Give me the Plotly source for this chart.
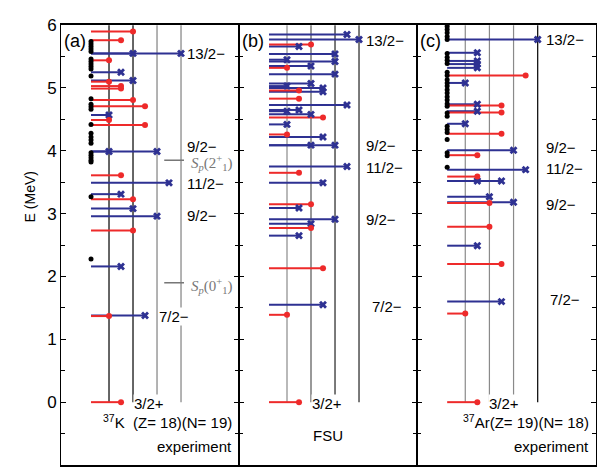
import plotly.graph_objects as go

RED = "#ee2a2a"
BLUE = "#2e3192"

# level energies (MeV) and line lengths, panel (a) 37K experiment
a_red_e = [5.90, 5.76, 5.44, 5.10, 5.03, 4.99, 4.81, 4.71, 4.49, 4.41, 3.61, 3.23, 2.73, 1.37, 0.0]
a_red_len = [3.5, 2.5, 1.5, 1.5, 2.5, 2.5, 3.5, 4.5, 1.5, 4.5, 2.5, 3.5, 3.5, 1.5, 2.5]
a_blue_e = [5.55, 5.55, 5.25, 5.12, 4.57, 3.99, 3.99, 3.49, 3.31, 3.08, 2.96, 2.16, 1.38]
a_blue_len = [7.5, 3.5, 2.5, 3.5, 1.5, 5.5, 1.5, 6.5, 2.5, 3.5, 5.5, 2.5, 4.5]
a_black_e = [5.74, 5.70, 5.66, 5.62, 5.58, 5.46, 5.42, 5.38, 5.34, 5.30, 5.19, 4.83,
             4.74, 4.70, 4.66, 4.42, 4.28, 4.22, 4.17, 4.12, 3.97, 3.93, 3.89, 3.85,
             3.82, 3.27, 2.28]

# panel (b) FSU
b_red_e = [5.69, 5.32, 4.96, 4.83, 4.53, 4.26, 3.65, 3.15, 2.77, 2.13, 1.39, 0.0]
b_red_len = [3.5, 1.5, 2.5, 2.5, 4.5, 1.5, 2.5, 3.5, 3.5, 4.5, 1.5, 2.5]
b_blue_e = [5.85, 5.77, 5.66, 5.54, 5.45, 5.42, 5.35, 5.22, 5.07, 5.03, 5.00, 4.94,
            4.73, 4.65, 4.63, 4.58, 4.42, 4.22, 4.09, 4.09, 3.75, 3.49, 3.09, 2.91,
            2.84, 2.65, 1.55]
b_blue_len = [6.5, 7.5, 2.5, 5.5, 1.5, 5.5, 3.5, 5.5, 3.5, 1.5, 4.5, 4.5,
              6.5, 2.5, 1.5, 3.5, 1.5, 4.5, 5.5, 3.5, 6.5, 4.5, 2.5, 5.5,
              3.5, 2.5, 4.5]

# panel (c) 37Ar experiment
c_red_e = [5.20, 4.72, 4.61, 4.27, 3.93, 3.59, 3.17, 2.79, 2.20, 1.41, 0.0]
c_red_len = [6.5, 4.5, 4.5, 4.5, 2.5, 2.5, 3.5, 3.5, 4.5, 1.5, 2.5]
c_blue_e = [5.77, 5.56, 5.43, 5.38, 5.32, 5.08, 4.74, 4.63, 4.43, 4.01, 3.70, 3.52,
            3.52, 3.27, 3.18, 2.49, 1.60]
c_blue_len = [7.5, 2.5, 2.5, 2.5, 2.5, 1.5, 2.5, 2.5, 1.5, 5.5, 6.5, 4.5,
              2.5, 3.5, 5.5, 2.5, 4.5]
c_black_e = [5.98, 5.93, 5.88, 5.82, 5.77, 5.55, 5.49, 5.44, 5.39, 5.25, 5.20, 5.13,
             5.08, 5.03, 4.97, 4.92, 4.86, 4.81, 4.75, 4.71, 4.60, 4.55, 4.39, 4.34,
             4.29, 4.18, 3.97, 3.92, 3.74]

ref_x = [1.5, 3.5, 5.5, 7.5]
ref_colors = {
    1: ["black", "black", "#808080", "#808080"],
    2: ["#8a8a8a", "#555555", "#222222", "#222222"],
    3: ["#8a8a8a", "#8a8a8a", "#8a8a8a", "black"],
}

# spin labels: (x, E, text) per panel
spin_labels = {
    1: [(7.9, 5.55, "13/2−"), (7.9, 4.07, "9/2−"), (7.9, 3.48, "11/2−"),
        (7.9, 2.97, "9/2−"), (5.6, 1.36, "7/2−"), (3.5, -0.02, "3/2+")],
    2: [(8.0, 5.76, "13/2−"), (8.0, 4.08, "9/2−"), (8.0, 3.73, "11/2−"),
        (8.0, 2.90, "9/2−"), (8.5, 1.53, "7/2−"), (3.5, -0.02, "3/2+")],
    3: [(8.1, 5.77, "13/2−"), (8.1, 4.05, "9/2−"), (8.1, 3.72, "11/2−"),
        (8.1, 3.14, "9/2−"), (8.4, 1.64, "7/2−"), (3.4, -0.02, "3/2+")],
}
sp_e = [3.85, 1.90]
sp_text = ["<i>S<sub>p</sub></i>(2<sup>+</sup><sub>1</sub>)",
           "<i>S<sub>p</sub></i>(0<sup>+</sup><sub>1</sub>)"]


def segments(energies, lengths):
    xs, ys = [], []
    for e, l in zip(energies, lengths):
        xs += [0, l, None]
        ys += [e, e, None]
    return xs, ys


fig = go.Figure()


def add_panel(n, red_e, red_len, blue_e, blue_len, black_e=None):
    xa = "x" if n == 1 else "x%d" % n
    ya = "y" if n == 1 else "y%d" % n
    for xv, col in zip(ref_x, ref_colors[n]):
        fig.add_trace(go.Scatter(x=[xv, xv], y=[0, 6], mode="lines",
                                 line=dict(color=col, width=1.2),
                                 xaxis=xa, yaxis=ya, showlegend=False))
    bx, by = segments(blue_e, blue_len)
    fig.add_trace(go.Scatter(x=bx, y=by, mode="lines", line=dict(color=BLUE, width=2),
                             xaxis=xa, yaxis=ya, showlegend=False))
    rx, ry = segments(red_e, red_len)
    fig.add_trace(go.Scatter(x=rx, y=ry, mode="lines", line=dict(color=RED, width=2),
                             xaxis=xa, yaxis=ya, showlegend=False))
    fig.add_trace(go.Scatter(x=blue_len, y=blue_e, mode="markers",
                             marker=dict(symbol="x", size=7, color=BLUE),
                             xaxis=xa, yaxis=ya, showlegend=False))
    fig.add_trace(go.Scatter(x=red_len, y=red_e, mode="markers",
                             marker=dict(symbol="circle", size=6, color=RED),
                             xaxis=xa, yaxis=ya, showlegend=False))
    if black_e:
        fig.add_trace(go.Scatter(x=[0] * len(black_e), y=black_e, mode="markers",
                                 marker=dict(symbol="circle", size=5, color="black"),
                                 xaxis=xa, yaxis=ya, showlegend=False))
    for xv, ev, txt in spin_labels[n]:
        fig.add_annotation(x=xv, y=ev, xref=xa, yref=ya, text=txt, showarrow=False,
                           xanchor="left", yanchor="middle", bgcolor="white",
                           borderpad=0, font=dict(size=15, color="black"))


add_panel(1, a_red_e, a_red_len, a_blue_e, a_blue_len, a_black_e)
add_panel(2, b_red_e, b_red_len, b_blue_e, b_blue_len)
add_panel(3, c_red_e, c_red_len, c_blue_e, c_blue_len, c_black_e)

# S_p thresholds in panel (a)
for e, txt in zip(sp_e, sp_text):
    fig.add_trace(go.Scatter(x=[6.1, 7.75], y=[e, e], mode="lines",
                             line=dict(color="#777777", width=1.5),
                             xaxis="x", yaxis="y", showlegend=False))
    fig.add_annotation(x=8.2, y=e - 0.05, xref="x", yref="y", text=txt, showarrow=False,
                       xanchor="left", yanchor="middle",
                       font=dict(size=15, color="#777777", family="Liberation Serif"))

# panel tags and titles
for n, tag in [(1, "(a)"), (2, "(b)"), (3, "(c)")]:
    xa = "x" if n == 1 else "x%d" % n
    ya = "y" if n == 1 else "y%d" % n
    fig.add_annotation(x=-2.4, y=5.74, xref=xa, yref=ya, text=tag, showarrow=False,
                       xanchor="left", font=dict(size=18, color="black"))

fig.add_annotation(x=11.9, y=-0.3, xref="x", yref="y",
                   text="<sup>37</sup>K  (Z= 18)(N= 19)", showarrow=False,
                   xanchor="right", font=dict(size=15, color="black"))
fig.add_annotation(x=11.9, y=-0.71, xref="x", yref="y", text="experiment",
                   showarrow=False, xanchor="right", font=dict(size=15, color="black"))
fig.add_annotation(x=4.9, y=-0.53, xref="x2", yref="y2", text="FSU",
                   showarrow=False, font=dict(size=15, color="black"))
fig.add_annotation(x=11.9, y=-0.3, xref="x3", yref="y3",
                   text="<sup>37</sup>Ar(Z= 19)(N= 18)", showarrow=False,
                   xanchor="right", font=dict(size=15, color="black"))
fig.add_annotation(x=11.9, y=-0.71, xref="x3", yref="y3", text="experiment",
                   showarrow=False, xanchor="right", font=dict(size=15, color="black"))

fig.add_annotation(x=-0.077, y=0.61, xref="paper", yref="paper", text="E (MeV)",
                   textangle=-90, showarrow=False, font=dict(size=14, color="black"))

# page body adds an 8px offset, so the figure is sized to fit inside the window
domains = [[0, 0.3327], [0.3327, 0.6654], [0.6654, 1]]
layout = dict(
    width=605, height=465,
    margin=dict(l=53, r=17, t=9, b=8),
    paper_bgcolor="white", plot_bgcolor="white",
    font=dict(family="Liberation Sans, Arial", color="black"),
)
for i, dom in enumerate(domains, start=1):
    sx = "" if i == 1 else str(i)
    layout["xaxis" + sx] = dict(domain=dom, range=[-2.5, 12.33], anchor="y" + sx,
                                showline=True, mirror=True, linecolor="black",
                                linewidth=1.5, showticklabels=False, ticks="",
                                showgrid=False, zeroline=False)
    layout["yaxis" + sx] = dict(range=[-1, 6.002], anchor="x" + sx, showline=True,
                                mirror="ticks", linecolor="black", linewidth=1,
                                ticks="inside", ticklen=5, tickcolor="black",
                                tickvals=[0, 1, 2, 3, 4, 5, 6],
                                minor=dict(ticks="inside", dtick=0.5, tick0=0,
                                           ticklen=4, tickcolor="black"),
                                showticklabels=(i == 1), tickfont=dict(size=17),
                                showgrid=False, zeroline=False)
fig.update_layout(**layout)

fig.write_html("out.html")
